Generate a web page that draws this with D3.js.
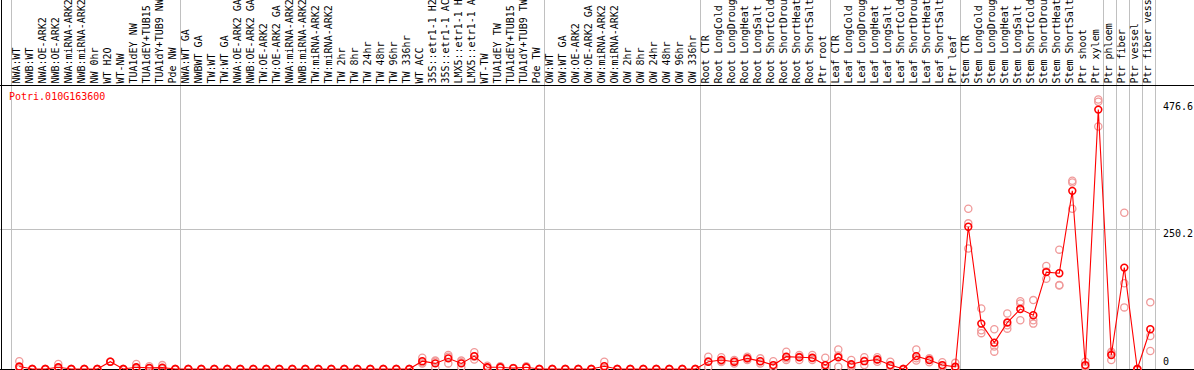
<!DOCTYPE html>
<html>
<head>
<meta charset="utf-8">
<script src="https://cdn.jsdelivr.net/npm/d3@7"></script>
<style>
  body { margin: 0; background: #fff; }
  text { font-family: "DejaVu Sans Mono", "Liberation Mono", monospace; font-size: 10px; }
</style>
</head>
<body>
<div id="figure"></div>
<script>
const gene = "Potri.010G163600";

const samples = [
  "NWA:WT", "NWB:WT", "NWA:OE-ARK2", "NWB:OE-ARK2", "NWA:miRNA-ARK2", "NWB:miRNA-ARK2",
  "NW 0hr", "WT H2O", "WT-NW", "TUA1dEY NW", "TUA1dEY+TUB15 NW", "TUA1dY+TUB9 NW", "Pde NW",
  "NWA:WT GA", "NWBWT GA", "TW:WT", "TW:WT GA", "NWA:OE-ARK2 GA", "NWB:OE-ARK2 GA",
  "TW:OE-ARK2", "TW:OE-ARK2 GA", "NWA:miRNA-ARK2", "NWB:miRNA-ARK2", "TW:miRNA-ARK2", "TW:miRNA-ARK2",
  "TW 2hr", "TW 8hr", "TW 24hr", "TW 48hr", "TW 96hr", "TW 336hr", "WT ACC",
  "35S::etr1-1 H2O", "35S::etr1-1 ACC", "LMX5::etr1-1 H2O", "LMX5::etr1-1 ACC",
  "WT-TW", "TUA1dEY TW", "TUA1dEY+TUB15 TW", "TUA1dY+TUB9 TW", "Pde TW",
  "OW:WT", "OW:WT GA", "OW:OE-ARK2", "OW:OE-ARK2 GA", "OW:miRNA-ARK2", "OW:miRNA-ARK2",
  "OW 2hr", "OW 8hr", "OW 24hr", "OW 48hr", "OW 96hr", "OW 336hr",
  "Root CTR", "Root LongCold", "Root LongDrought", "Root LongHeat", "Root LongSalt",
  "Root ShortCold", "Root ShortDrought", "Root ShortHeat", "Root ShortSalt", "Ptr root",
  "Leaf CTR", "Leaf LongCold", "Leaf LongDrought", "Leaf LongHeat", "Leaf LongSalt",
  "Leaf ShortCold", "Leaf ShortDrought", "Leaf ShortHeat", "Leaf ShortSalt", "Ptr leaf",
  "Stem CTR", "Stem LongCold", "Stem LongDrought", "Stem LongHeat", "Stem LongSalt",
  "Stem ShortCold", "Stem ShortDrought", "Stem ShortHeat", "Stem ShortSalt", "Ptr shoot", "Ptr xylem",
  "Ptr phloem", "Ptr fiber", "Ptr vessel", "Ptr fiber vessel"
];

// first sample of each group (last entry = end)
const groupStarts = [0, 13, 41, 53, 63, 73, 84, 85, 86, 87, 88];

const means = [
  4.5, 0, 0, 3, 0, 0, 0, 13, 0, 3, 2, 2.5, 0,
  0, 0, 0, 0, 0, 0, 0, 0, 0, 0, 0, 0, 0, 0, 0, 0, 0, 0,
  14, 10, 19, 10, 23, 3, 3, 1.5, 3, 0,
  0, 0, 0, 0, 5, 0, 0, 0, 0, 0, 0, 0,
  13, 16, 13, 19, 14, 7, 22, 21, 20, 7,
  21, 8.5, 14, 17, 7, 0, 23, 16, 7, 4,
  254, 81, 47, 83, 107, 96, 173, 171, 318, 7, 463,
  25, 181, 0, 71
];

const replicates = [
  [14, 0, 0], [0, 0, 0], [0, 0, 0], [9, 0, 0], [0, 0, 0], [0, 0, 0], [0, 0, 0],
  [13, 13], [0, 0, 0], [9, 0, 0], [5, 1, 0], [7, 0, 0], [0, 0, 0],
  [0, 0, 0], [0, 0, 0], [0, 0, 0], [0, 0, 0], [0, 0, 0], [0, 0, 0], [0, 0, 0], [0, 0, 0], [0, 0, 0],
  [0, 0, 0], [0, 0, 0], [0, 0, 0], [0, 0, 0], [0, 0, 0], [0, 0, 0], [0, 0, 0], [0, 0, 0], [0, 0, 0],
  [20, 12, 10], [15, 2, 13], [25, 10, 22], [15, 3, 12], [30, 17, 22],
  [6, 2, 1], [5, 2, 2], [2, 1, 1.5], [5, 2, 2], [0, 0, 0],
  [0, 0, 0], [0, 0, 0], [0, 0, 0], [0, 0, 0], [13, 1, 2], [0, 0, 0],
  [0, 0, 0], [0, 0, 0], [0, 0, 0], [0, 0, 0], [0, 0, 0], [0, 0, 0],
  [22, 3, 14], [21, 12.5, 14.5], [16, 10, 13], [22, 16, 19], [19, 10, 13.6],
  [14, 3, 4], [31, 19, 16], [25, 16, 22], [25, 16, 19], [20, 1, 0],
  [35, 4, 24], [16, 3, 6], [21, 7, 14.6], [21, 13, 17.6], [13, 3, 5],
  [0, 0, 0], [35, 15, 19], [19, 12, 17], [12, 3, 6], [11, 1, 0],
  [286, 260, 215], [108, 69, 64], [71, 40, 31], [99, 72, 78], [121, 117, 87],
  [123, 87, 81], [184, 161, 174], [213, 149, 150], [336, 333, 286], [13, 3, 5], [481, 477, 433],
  [31, 16, 28], [279, 153, 110], [0, 0, 0], [119, 59, 32]
];

const yTicks = [0, 250.2, 476.6];

const width = 1194, height = 370;

const svg = d3.select("#figure")
  .append("svg")
  .attr("width", width)
  .attr("height", height);

const x = d3.scaleLinear().domain([0, samples.length - 1]).range([19.3, 19.3 + 13 * (samples.length - 1)]);
const y = d3.scaleLinear().domain([0, 476.6]).range([369, 102]);

// horizontal grid line (middle tick only)
svg.append("line")
  .attr("x1", 0).attr("x2", 1160)
  .attr("y1", Math.round(y(250.2)) + 0.5).attr("y2", Math.round(y(250.2)) + 0.5)
  .attr("stroke", "#c0c0c0");

// group separators
svg.selectAll(".sep")
  .data(groupStarts)
  .join("line")
  .attr("class", "sep")
  .attr("x1", d => Math.round(x(d) - 8.4) + 0.5)
  .attr("x2", d => Math.round(x(d) - 8.4) + 0.5)
  .attr("y1", 0).attr("y2", 369)
  .attr("stroke", "#c0c0c0");

// frame
svg.append("line").attr("x1", 0).attr("x2", width).attr("y1", 85.5).attr("y2", 85.5).attr("stroke", "#000");
svg.append("line").attr("x1", 0).attr("x2", width).attr("y1", 369.5).attr("y2", 369.5).attr("stroke", "#000");
svg.append("line").attr("x1", 1.5).attr("x2", 1.5).attr("y1", 0).attr("y2", height).attr("stroke", "#000");

// sample labels
svg.selectAll(".lab")
  .data(samples)
  .join("text")
  .attr("class", "lab")
  .attr("transform", (d, i) => `translate(${x(i) + 1},83.5) rotate(-90)`)
  .attr("fill", "#000")
  .text(d => d);

// y tick labels
svg.selectAll(".ytick")
  .data(yTicks)
  .join("text")
  .attr("class", "ytick")
  .attr("x", 1163)
  .attr("y", d => Math.min(y(d) + 8, 365))
  .attr("fill", "#000")
  .text(d => d);

svg.append("text")
  .attr("x", 9).attr("y", 100)
  .attr("fill", "#ff0000")
  .text(gene);

// replicate points
const repPts = [];
replicates.forEach((r, i) => r.forEach(v => repPts.push({i: i, v: v})));
svg.selectAll(".rep")
  .data(repPts)
  .join("circle")
  .attr("class", "rep")
  .attr("cx", d => x(d.i))
  .attr("cy", d => y(d.v))
  .attr("r", 3.6)
  .attr("fill", "none")
  .attr("stroke", "#f09a9a")
  .attr("stroke-width", 1.3);

// mean line
svg.append("path")
  .datum(means)
  .attr("fill", "none")
  .attr("stroke", "#ff0000")
  .attr("stroke-width", 1.1)
  .attr("d", d3.line().x((d, i) => x(i)).y(d => y(d)));

svg.selectAll(".mean")
  .data(means)
  .join("circle")
  .attr("class", "mean")
  .attr("cx", (d, i) => x(i))
  .attr("cy", d => y(d))
  .attr("r", 3.4)
  .attr("fill", "none")
  .attr("stroke", "#ff0000")
  .attr("stroke-width", 1.6);
</script>
</body>
</html>
